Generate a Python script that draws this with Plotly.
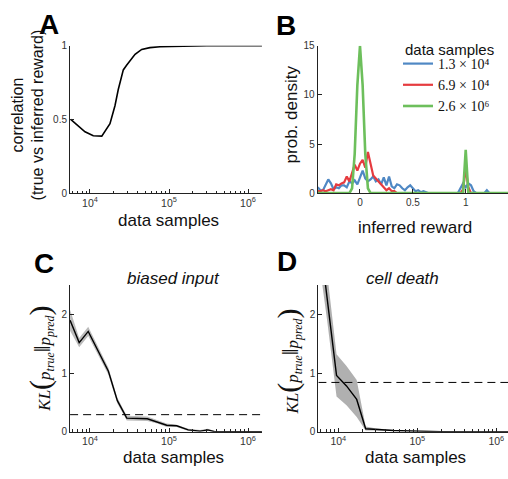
import plotly.graph_objects as go

# ---------------- data ----------------
# Panel A: correlation vs data samples
a_x = [5.7e3, 8.65e3, 1.1e4, 1.41e4, 1.79e4, 2.07e4, 2.28e4, 2.64e4, 2.92e4,
       3.72e4, 4.51e4, 5.74e4, 7.69e4, 1.38e5, 3e5, 1e6, 1.5e6]
a_y = [0.50, 0.416, 0.389, 0.387, 0.471, 0.593, 0.703, 0.836, 0.869,
       0.942, 0.975, 0.987, 0.993, 0.998, 1.0, 1.0, 1.0]

# Panel B: distributions of inferred reward
b_x = [round(-0.4 + 0.025 * i, 3) for i in range(73)]
b_blue = [0.6, 0.3, 0.3, 0.8, 1.4, 1.0, 0.4, 0.6, 0.5, 0.8, 0.8, 0.6, 1.2, 1.0, 1.3, 0.9,
          1.6, 2.3, 1.5, 1.2, 1.4, 1.7, 1.2, 1.4, 0.9, 1.6, 0.8, 1.7, 0.7, 0.5, 0.9, 0.8,
          0.5, 0.3, 0.6, 0.8, 0.5, 0.2, 0.3, 0.1, 0.2, 0.1, 0.0, 0.0, 0.0, 0.0, 0.0, 0.0,
          0.0, 0.0, 0.0, 0.0, 0.0, 0.0, 0.5, 1.0, 0.6, 1.0, 0.8, 0.2, 0.0, 0.0, 0.0, 0.0,
          0.3, 0.0, 0.0, 0.0, 0.0, 0.0, 0.0, 0.0, 0.0]
b_red = [0.2, 0.2, 0.3, 0.2, 0.3, 0.4, 0.3, 0.9, 0.8, 1.0, 1.1, 1.7, 1.2, 2.0, 2.9, 2.3,
         3.0, 3.4, 2.6, 4.2, 3.0, 1.8, 1.5, 1.2, 1.0, 0.6, 0.3, 0.5, 0.2, 0.2, 0.0, 0.0,
         0.0, 0.0, 0.0, 0.0, 0.0, 0.0, 0.0, 0.0, 0.0, 0.0, 0.0, 0.0, 0.0, 0.0, 0.0, 0.0,
         0.0, 0.0, 0.0, 0.0, 0.0, 0.0, 0.0, 0.4, 2.5, 0.6, 0.0, 0.0, 0.0, 0.0, 0.0, 0.0,
         0.0, 0.0, 0.0, 0.0, 0.0, 0.0, 0.0, 0.0, 0.0]
b_green = [0.0, 0.0, 0.0, 0.0, 0.0, 0.0, 0.0, 0.0, 0.0, 0.0, 0.0, 0.0, 0.0, 0.5, 4.0, 11.0,
           15.0, 11.0, 4.0, 0.5, 0.0, 0.0, 0.0, 0.0, 0.0, 0.0, 0.0, 0.0, 0.0, 0.0, 0.0, 0.0,
           0.0, 0.0, 0.0, 0.0, 0.0, 0.0, 0.0, 0.0, 0.0, 0.0, 0.0, 0.0, 0.0, 0.0, 0.0, 0.0,
           0.0, 0.0, 0.0, 0.0, 0.0, 0.0, 0.0, 0.0, 4.4, 0.0, 0.0, 0.0, 0.0, 0.0, 0.0, 0.0,
           0.0, 0.0, 0.0, 0.0, 0.0, 0.0, 0.0, 0.0, 0.0]
b_names = ["1.3 × 10⁴", "6.9 × 10⁴", "2.6 × 10⁶"]

# Panel C: biased input
c_x = [5.6e3, 7.3e3, 9.5e3, 1.27e4, 1.71e4, 2.22e4, 2.92e4, 5.31e4, 7.11e4, 9.35e4,
       1.25e5, 1.75e5, 2.47e5, 3.1e5, 3.8e5, 6e5, 1e6, 1.5e6]
c_y = [1.90, 1.52, 1.71, 1.36, 1.03, 0.53, 0.23, 0.22, 0.17, 0.11,
       0.10, 0.03, 0.01, 0.03, 0.0, 0.0, 0.0, 0.0]
c_err = [0.18, 0.08, 0.08, 0.07, 0.06, 0.05, 0.04, 0.04, 0.03, 0.03,
         0.02, 0.02, 0.02, 0.02, 0.01, 0.01, 0.01, 0.01]
c_ref = 0.29

# Panel D: cell death
d_x = [5.6e3, 7.3e3, 9.5e3, 1.27e4, 1.71e4, 2.22e4, 2.92e4, 5e4, 1e5, 2e5, 5e5, 1e6, 1.5e6]
d_y = [3.5, 2.25, 0.96, 0.78, 0.55, 0.05, 0.04, 0.02, 0.01, 0.0, 0.0, 0.0, 0.0]
d_upper = [4.0, 2.7, 1.32, 1.12, 0.88, 0.09, 0.06, 0.03, 0.015, 0.01, 0.0, 0.0, 0.0]
d_lower = [3.0, 1.85, 0.6, 0.45, 0.25, 0.02, 0.02, 0.01, 0.005, 0.0, 0.0, 0.0, 0.0]
d_ref = 0.84

# tick labels
log_ticks = [1e4, 1e5, 1e6]
log_ticktext = ["10<sup>4</sup>", "10<sup>5</sup>", "10<sup>6</sup>"]

# ---------------- figure ----------------
W, H = 508, 479
AX = "#222222"
TICKC = "#333333"
SANS = "Liberation Sans, Arial, sans-serif"
SERIF = "Liberation Serif, Times New Roman, serif"
BAND = "#b0b0b0"

fig = go.Figure()

# A
fig.add_trace(go.Scatter(x=a_x, y=a_y, mode="lines", line=dict(color="black", width=1.6),
                         xaxis="x", yaxis="y", showlegend=False))
# B
for vals, col, nm, w in [(b_blue, "#4f88c4", b_names[0], 2.2),
                         (b_red, "#e63b3f", b_names[1], 2.2),
                         (b_green, "#6dbf5c", b_names[2], 2.6)]:
    fig.add_trace(go.Scatter(x=b_x, y=vals, mode="lines", line=dict(color=col, width=w),
                             name=nm, xaxis="x2", yaxis="y2"))
# C
c_up = [y + e for y, e in zip(c_y, c_err)]
c_lo = [max(y - e, 0) for y, e in zip(c_y, c_err)]
fig.add_trace(go.Scatter(x=c_x, y=c_up, mode="lines", line=dict(width=0, color=BAND),
                         xaxis="x3", yaxis="y3", showlegend=False))
fig.add_trace(go.Scatter(x=c_x, y=c_lo, mode="lines", line=dict(width=0, color=BAND),
                         fill="tonexty", fillcolor="rgba(150,150,150,0.65)",
                         xaxis="x3", yaxis="y3", showlegend=False))
fig.add_trace(go.Scatter(x=c_x, y=c_y, mode="lines", line=dict(color="black", width=1.4),
                         xaxis="x3", yaxis="y3", showlegend=False))
fig.add_trace(go.Scatter(x=[c_x[0], c_x[-1]], y=[c_ref, c_ref], mode="lines",
                         line=dict(color="black", width=1, dash="8px,5px"),
                         xaxis="x3", yaxis="y3", showlegend=False))
# D
fig.add_trace(go.Scatter(x=d_x, y=d_upper, mode="lines", line=dict(width=0, color=BAND),
                         xaxis="x4", yaxis="y4", showlegend=False))
fig.add_trace(go.Scatter(x=d_x, y=d_lower, mode="lines", line=dict(width=0, color=BAND),
                         fill="tonexty", fillcolor="rgba(150,150,150,0.75)",
                         xaxis="x4", yaxis="y4", showlegend=False))
fig.add_trace(go.Scatter(x=d_x, y=d_y, mode="lines", line=dict(color="black", width=1.4),
                         xaxis="x4", yaxis="y4", showlegend=False))
fig.add_trace(go.Scatter(x=[d_x[0], d_x[-1]], y=[d_ref, d_ref], mode="lines",
                         line=dict(color="black", width=1, dash="8px,5px"),
                         xaxis="x4", yaxis="y4", showlegend=False))


def px_x(p):
    return p / W


def px_y(p):
    return 1 - p / H


tickfont = dict(family=SANS, size=10, color=TICKC)
xtickfont = dict(family=SANS, size=10.5, color=TICKC)
minor_vals = [k * 10 ** e for e in (3, 4, 5, 6) for k in range(2, 10)]


def logaxis(dom, rng):
    return dict(domain=dom, type="log", range=rng, tickmode="array",
                tickvals=log_ticks, ticktext=log_ticktext,
                showgrid=False, zeroline=False, showline=True, linecolor=AX, linewidth=1,
                ticks="inside", ticklen=4, tickcolor=AX, tickfont=xtickfont,
                minor=dict(tickmode="array", tickvals=minor_vals, ticks="inside",
                           ticklen=2.5, tickcolor=AX, showgrid=False),
                mirror=False)


def linaxis(dom, rng, dt, anchor):
    return dict(domain=dom, range=rng, dtick=dt, showgrid=False, zeroline=False,
                showline=True, linecolor=AX, linewidth=1, ticks="inside", ticklen=4,
                tickcolor=AX, tickfont=tickfont, anchor=anchor)


yA = [px_y(192.6), px_y(41.7)]
yC = [px_y(436.7), px_y(286.7)]

fig.update_layout(
    width=W, height=H, margin=dict(l=0, r=0, t=0, b=0),
    paper_bgcolor="white", plot_bgcolor="white",
    xaxis=dict(logaxis([px_x(70), px_x(262)], [3.747, 6.177]), anchor="y"),
    yaxis=linaxis(yA, [0, 1], 0.5, "x"),
    xaxis2=dict(linaxis([px_x(317.7), 1.0], [-0.4, 1.4], 0.5, "y2"),
                tickvals=[0, 0.5, 1], ticktext=["0", "0.5", "1"]),
    yaxis2=linaxis(yA, [0, 15], 5, "x2"),
    xaxis3=dict(logaxis([px_x(70), px_x(262)], [3.747, 6.177]), anchor="y3"),
    yaxis3=linaxis(yC, [0, 2.5], 1, "x3"),
    xaxis4=dict(logaxis([px_x(318.3), 1.0], [3.747, 6.148]), anchor="y4"),
    yaxis4=linaxis(yC, [0, 2.5], 1, "x4"),
    legend=dict(x=px_x(398), y=px_y(44), xanchor="left", yanchor="top",
                bgcolor="rgba(0,0,0,0)", font=dict(family=SERIF, size=14, color="#111"),
                itemwidth=30, tracegroupgap=0, traceorder="normal"),
)


def ann(text, x, y, size=17, rot=0, font=SANS, bold=False, italic=False, color="#111",
        xanchor="center"):
    t = text
    if bold:
        t = "<b>" + t + "</b>"
    if italic:
        t = "<i>" + t + "</i>"
    fig.add_annotation(text=t, x=px_x(x), y=px_y(y), xref="paper", yref="paper",
                       showarrow=False, textangle=rot, xanchor=xanchor, yanchor="middle",
                       font=dict(family=font, size=size, color=color))


# panel letters
ann("A", 49, 20, size=28, bold=True, color="black")
ann("B", 286, 21, size=28, bold=True, color="black")
ann("C", 44, 265, size=28, bold=True, color="black")
ann("D", 287, 263, size=28, bold=True, color="black")

# legend title
ann("data samples", 403, 46, size=15, xanchor="left")

# axis titles
ann("data samples", 168, 221)
ann("data samples", 173, 463)
ann("data samples", 415, 463)
ann("inferred reward", 415, 228)
ann("correlation<br>(true vs inferred reward)", 28, 113, size=16, rot=-90)
ann("prob. density", 291, 112, rot=-90)
ann("biased input", 173, 280, size=17, italic=True)
ann("cell death", 402, 280, size=17, italic=True)

kl = ("<i>KL</i><span style='font-size:30px'>(</span><i>p<sub>true</sub></i>"
      "<span style='font-size:24px'>‖</span><i>p<sub>pred</sub></i>"
      "<span style='font-size:30px'>)</span>")
ann(kl, 40, 362, size=17, rot=-90, font=SERIF)
ann(kl, 288, 365, size=17, rot=-90, font=SERIF)

fig.write_html("out.html", post_script="document.body.style.margin='0';",
               config={"displayModeBar": False})
